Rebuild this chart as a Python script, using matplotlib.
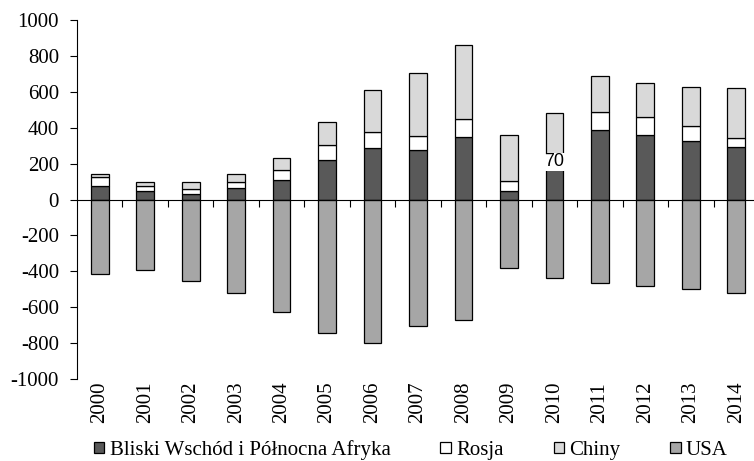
import numpy as np
import matplotlib.pyplot as plt

years = [str(y) for y in range(2000, 2015)]
mena = [77, 46, 31, 63, 106, 218, 287, 278, 348, 50, 180, 389, 357, 328, 290]
rosja = [47, 31, 30, 35, 59, 84, 91, 75, 102, 53, 70, 100, 104, 79, 54]
chiny = [20, 19, 35, 46, 68, 132, 231, 354, 409, 258, 234, 200, 189, 222, 276]
usa = [-415, -395, -456, -519, -628, -745, -800, -706, -673, -380, -439, -463, -484, -497, -521]
labels = ['Bliski Wschód i Północna Afryka', 'Rosja', 'Chiny', 'USA']
colors = ['#595959', '#ffffff', '#d9d9d9', '#a6a6a6']

plt.rcParams['font.family'] = ['Liberation Serif', 'DejaVu Serif']
plt.rcParams['axes.unicode_minus'] = False

fig = plt.figure(figsize=(7.54, 4.61), dpi=100)
ax = fig.add_axes([77 / 754, 1 - 379 / 461, 682 / 754, 359 / 461])

x = np.arange(len(years))
w = 0.39
mena = np.array(mena)
rosja = np.array(rosja)
chiny = np.array(chiny)
kw = dict(width=w, edgecolor='black', linewidth=0.9, zorder=3)
ax.bar(x, mena, color=colors[0], label=labels[0], **kw)
ax.bar(x, rosja, bottom=mena, color=colors[1], label=labels[1], **kw)
ax.bar(x, chiny, bottom=mena + rosja, color=colors[2], label=labels[2], **kw)
ax.bar(x, usa, color=colors[3], label=labels[3], **kw)

# stray data label in 2010
i = years.index('2010')
ax.text(x[i], mena[i] + rosja[i] / 2 - 5, '70', ha='center', va='center',
        fontsize=13, family='Liberation Sans', zorder=4,
        bbox=dict(facecolor='white', edgecolor='none', pad=0.2))

ax.set_xlim(-0.5, len(years) - 0.5)
ax.set_ylim(-1000, 1000)
ax.set_yticks(range(-1000, 1001, 200))
ax.tick_params(axis='y', labelsize=15, length=5, direction='out', pad=8)

ax.spines['top'].set_visible(False)
ax.spines['right'].set_visible(False)
ax.spines['bottom'].set_position(('data', 0))
ax.spines['bottom'].set_zorder(4)
ax.set_xticks(np.arange(0.5, len(years) - 0.5))
ax.set_xticklabels([])
ax.tick_params(axis='x', length=5, direction='out')

sec = ax.secondary_xaxis('bottom')
sec.set_xticks(x, labels=years, rotation=90)
sec.tick_params(length=0, labelsize=15, pad=2)
sec.spines['bottom'].set_visible(False)

fig.legend(loc='center', bbox_to_anchor=(0.545, 0.024), ncol=4,
           frameon=False, fontsize=15, handlelength=0.5, handleheight=0.5,
           handletextpad=0.25, columnspacing=2.4, borderpad=0)

fig.savefig('out.png', dpi=100)
